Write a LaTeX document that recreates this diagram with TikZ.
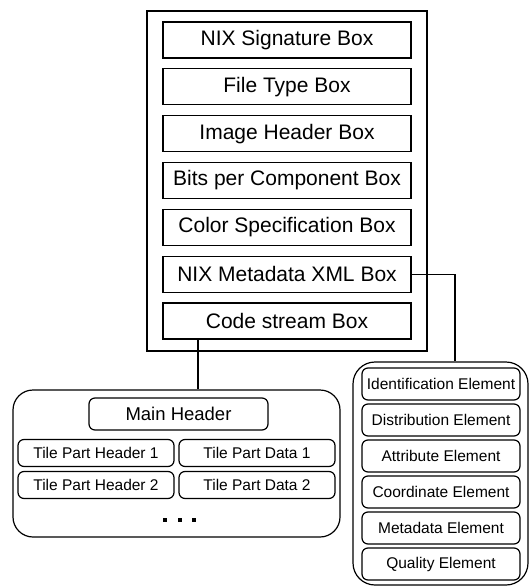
\documentclass[tikz,border=0pt]{standalone}
\usepackage{fontspec}
\setmainfont{Liberation Sans}
\tikzset{
  boxline/.style={line width=1.2pt},
  filebox/.style={boxline, draw, inner sep=0pt, minimum width=248pt, minimum height=36pt,
    font=\fontsize{21}{25}\selectfont},
  part/.style={boxline, draw, rounded corners=6pt, inner sep=0pt, minimum height=27pt,
    minimum width=156pt, font=\fontsize{15.5}{18}\selectfont},
  element/.style={boxline, draw, rounded corners=6pt, inner sep=0pt, minimum height=32pt,
    minimum width=158pt, font=\fontsize{15.5}{18}\selectfont}
}
\begin{document}
\begin{tikzpicture}[x=1pt, y=-1pt]
    \useasboundingbox (0,0) rectangle (530,586);
    % file container
    \node[boxline, draw, minimum width=280pt, minimum height=340pt] (file) at (287,181) {};
    \node[filebox] (sig)   at (287,40)    {NIX Signature Box};
    \node[filebox] (ftype) at (287,86.8)  {File Type Box};
    \node[filebox] (ihdr)  at (287,133.7) {Image Header Box};
    \node[filebox] (bpc)   at (287,180.5) {Bits per Component Box};
    \node[filebox] (colr)  at (287,227.3) {Color Specification Box};
    \node[filebox] (meta)  at (287,274.2) {NIX Metadata XML Box};
    \node[filebox] (code)  at (287,321)   {Code stream Box};
    % code stream
    \node[boxline, draw, rounded corners=20pt, minimum width=327pt, minimum height=147pt] (stream) at (176.5,463.5) {};
    \node[part, minimum width=179pt, minimum height=32pt, font=\fontsize{18.5}{22}\selectfont] (main) at (178.5,414) {Main Header};
    \node[part] (tph1) at (96,453)  {Tile Part Header 1};
    \node[part] (tpd1) at (257,453) {Tile Part Data 1};
    \node[part] (tph2) at (96,485)  {Tile Part Header 2};
    \node[part] (tpd2) at (257,485) {Tile Part Data 2};
    \foreach \x in {165,180,194}
        \fill (\x-2,518) rectangle (\x+2,522);
    % metadata elements
    \node[boxline, draw, rounded corners=22pt, minimum width=175pt, minimum height=223pt] (nix) at (440.5,473.5) {};
    \node[element] (ident) at (441,384) {Identification Element};
    \node[element] (dist)  at (441,420) {Distribution Element};
    \node[element] (attr)  at (441,456) {Attribute Element};
    \node[element] (coord) at (441,492) {Coordinate Element};
    \node[element] (mdata) at (441,528) {Metadata Element};
    \node[element] (qual)  at (441,564) {Quality Element};
    % links
    \draw[boxline] ([xshift=-89pt]code.south) -- ([xshift=-89pt]code.south |- stream.north);
    \draw[boxline] (meta.east) -| ([xshift=14.5pt]nix.north);
\end{tikzpicture}
\end{document}
